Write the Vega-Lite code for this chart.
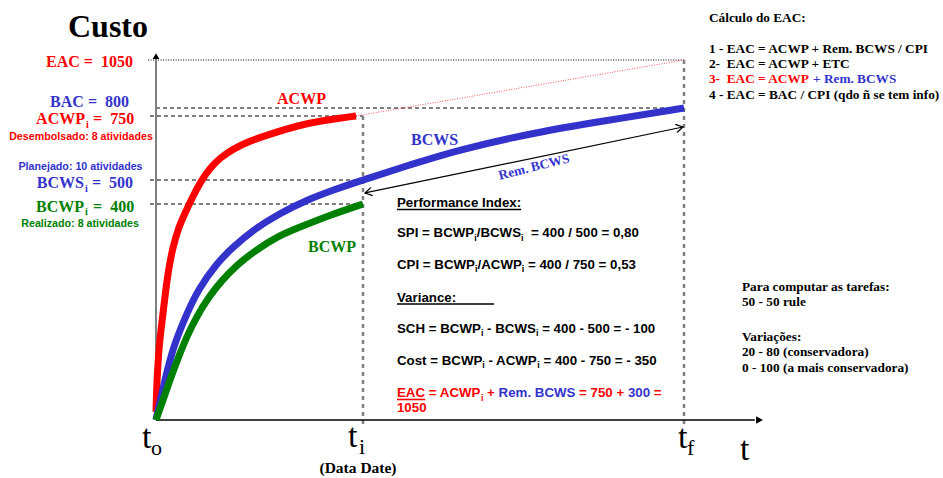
{
  "$schema": "https://vega.github.io/schema/vega-lite/v6.json",
  "width": 943,
  "height": 478,
  "autosize": {"type": "none"},
  "padding": 0,
  "background": "white",
  "view": {"stroke": null},
  "datasets": {
    "curves": [
      {"ref": "ACWP", "t": 0, "v": 15}, {"ref": "ACWP", "t": 0.09, "v": 46}, {"ref": "ACWP", "t": 0.19, "v": 74},
      {"ref": "ACWP", "t": 0.57, "v": 135}, {"ref": "ACWP", "t": 0.95, "v": 167}, {"ref": "ACWP", "t": 1.33, "v": 198},
      {"ref": "ACWP", "t": 2.08, "v": 259}, {"ref": "ACWP", "t": 2.65, "v": 293}, {"ref": "ACWP", "t": 3.22, "v": 320},
      {"ref": "ACWP", "t": 4.17, "v": 354}, {"ref": "ACWP", "t": 5.49, "v": 383}, {"ref": "ACWP", "t": 6.82, "v": 425},
      {"ref": "ACWP", "t": 8.52, "v": 496}, {"ref": "ACWP", "t": 10.23, "v": 546.9}, {"ref": "ACWP", "t": 12.12, "v": 585.9},
      {"ref": "ACWP", "t": 14.58, "v": 621.1}, {"ref": "ACWP", "t": 17.8, "v": 652.3}, {"ref": "ACWP", "t": 21.02, "v": 675.8},
      {"ref": "ACWP", "t": 27.27, "v": 715}, {"ref": "ACWP", "t": 31.06, "v": 730}, {"ref": "ACWP", "t": 34.85, "v": 742},
      {"ref": "ACWP", "t": 37.88, "v": 750},
      {"ref": "BCWS", "t": 0, "v": 0}, {"ref": "BCWS", "t": 0.38, "v": 18.5}, {"ref": "BCWS", "t": 1.7, "v": 74},
      {"ref": "BCWS", "t": 3.22, "v": 135}, {"ref": "BCWS", "t": 5.87, "v": 198}, {"ref": "BCWS", "t": 7.95, "v": 241},
      {"ref": "BCWS", "t": 11.55, "v": 291}, {"ref": "BCWS", "t": 14.58, "v": 320}, {"ref": "BCWS", "t": 18.37, "v": 352},
      {"ref": "BCWS", "t": 23.48, "v": 383}, {"ref": "BCWS", "t": 28.6, "v": 417}, {"ref": "BCWS", "t": 33.52, "v": 458},
      {"ref": "BCWS", "t": 39.2, "v": 500}, {"ref": "BCWS", "t": 48.11, "v": 559}, {"ref": "BCWS", "t": 57.01, "v": 617},
      {"ref": "BCWS", "t": 72.16, "v": 687.5}, {"ref": "BCWS", "t": 84.66, "v": 730}, {"ref": "BCWS", "t": 100, "v": 800},
      {"ref": "BCWP", "t": 0, "v": 0}, {"ref": "BCWP", "t": 1.33, "v": 37}, {"ref": "BCWP", "t": 2.65, "v": 74.1},
      {"ref": "BCWP", "t": 4.17, "v": 114.8}, {"ref": "BCWP", "t": 5.87, "v": 155.6}, {"ref": "BCWP", "t": 7.77, "v": 192.6},
      {"ref": "BCWP", "t": 9.85, "v": 225.9}, {"ref": "BCWP", "t": 12.5, "v": 259.3}, {"ref": "BCWP", "t": 15.53, "v": 288.9},
      {"ref": "BCWP", "t": 18.94, "v": 314.8}, {"ref": "BCWP", "t": 23.11, "v": 340.7}, {"ref": "BCWP", "t": 27.27, "v": 357.4},
      {"ref": "BCWP", "t": 32.95, "v": 379.6}, {"ref": "BCWP", "t": 39.2, "v": 400}
    ],
    "eacLine": [{"t": -1.5, "v": 1050, "t2": 100, "v2": 1050}],
    "levels": [
      {"name": "BAC", "t": 0, "v": 800, "t2": 100, "v2": 800},
      {"name": "ACWPi", "t": -1.14, "v": 750, "t2": 39.2, "v2": 750},
      {"name": "BCWSi", "t": -1.14, "v": 500, "t2": 39.2, "v2": 500},
      {"name": "BCWPi", "t": -1.14, "v": 400, "t2": 39.2, "v2": 400}
    ],
    "dates": [
      {"name": "ti", "t": 39.2, "v": 750, "t2": 39.2, "v2": -13},
      {"name": "tf", "t": 100, "v": 1050, "t2": 100, "v2": -13}
    ],
    "projection": [{"t": 37.88, "v": 750, "t2": 100, "v2": 1050}],
    "yAxis": [{"t": 0, "v": 0, "t2": 0, "v2": 1066}],
    "xAxis": [{"t": 0, "v": 0, "t2": 113.4, "v2": 0}],
    "remLine": [{"t": 39.58, "v": 446, "t2": 99.81, "v2": 707}],
    "yTip": [{"t": 0, "v": 1070}],
    "xTip": [{"t": 114.3, "v": 0}],
    "remStart": [{"t": 39.58, "v": 446}],
    "remEnd": [{"t": 99.81, "v": 707}],
    "underlines": [
      {"ref": "none", "t": 45.64, "v": 389.8, "t2": 69.17, "v2": 389.8},
      {"ref": "none", "t": 45.64, "v": 214.8, "t2": 64.02, "v2": 214.8},
      {"ref": "EAC", "t": 45.64, "v": 38.0, "t2": 50.97, "v2": 38.0}
    ],
    "title": [{"text": "Custo", "t": -16.67, "v": 1169.8}],
    "leftRight": [
      {"text": "EAC =\u00a0 1050", "t": -4.36, "v": 1013.5, "ref": "EAC"},
      {"text": "BAC =\u00a0 800", "t": -5.11, "v": 805.2, "ref": "BCWS"},
      {"text": "ACWP", "t": -13.45, "v": 718.7, "ref": "ACWP"},
      {"text": "BCWS", "t": -13.64, "v": 466.7, "ref": "BCWS"},
      {"text": "BCWP", "t": -13.64, "v": 385.2, "ref": "BCWP"}
    ],
    "leftEq": [
      {"text": "=\u00a0 750", "t": -11.93, "v": 718.7, "ref": "ACWP"},
      {"text": "=\u00a0 500", "t": -12.12, "v": 466.7, "ref": "BCWS"},
      {"text": "=\u00a0 400", "t": -11.93, "v": 385.2, "ref": "BCWP"}
    ],
    "leftSub": [
      {"text": "i", "t": -13.26, "v": 705, "ref": "ACWP"},
      {"text": "i", "t": -13.45, "v": 452, "ref": "BCWS"},
      {"text": "i", "t": -13.45, "v": 380, "ref": "BCWP"}
    ],
    "notes": [
      {"text": "Desembolsado: 8 atividades", "t": -14.2, "v": 656.2, "ref": "ACWP"},
      {"text": "Planejado: 10 atividades", "t": -14.3, "v": 539.1, "ref": "BCWS"},
      {"text": "Realizado: 8 atividades", "t": -14.39, "v": 357.5, "ref": "BCWP"}
    ],
    "curveLabels": [
      {"text": "ACWP", "t": 22.92, "v": 820.8, "ref": "ACWP"},
      {"text": "BCWS", "t": 48.3, "v": 636.7, "ref": "BCWS"},
      {"text": "BCWP", "t": 28.79, "v": 311.1, "ref": "BCWP"}
    ],
    "remLabel": [{"text": "Rem. BCWS", "t": 71.59, "v": 550.8, "ref": "BCWS"}],
    "block": [
      {"text": "Performance Index:", "t": 45.64, "v": 395.0, "ref": "none"},
      {"text": "SPI = BCWP", "t": 45.64, "v": 338.3, "ref": "none"},
      {"text": "/BCWS", "t": 60.74, "v": 338.3, "ref": "none"},
      {"text": "= 400 / 500 = 0,80", "t": 71.0, "v": 338.3, "ref": "none"},
      {"text": "CPI = BCWP", "t": 45.64, "v": 279.6, "ref": "none"},
      {"text": "/ACWP", "t": 60.89, "v": 279.6, "ref": "none"},
      {"text": "= 400 / 750 = 0,53", "t": 70.45, "v": 279.6, "ref": "none"},
      {"text": "Variance:", "t": 45.64, "v": 219.1, "ref": "none"},
      {"text": "SCH = BCWP", "t": 45.64, "v": 161.1, "ref": "none"},
      {"text": "- BCWS", "t": 62.71, "v": 161.1, "ref": "none"},
      {"text": "= 400 - 500 = - 100", "t": 73.13, "v": 161.1, "ref": "none"},
      {"text": "Cost = BCWP", "t": 45.64, "v": 101.9, "ref": "none"},
      {"text": "- ACWP", "t": 62.97, "v": 101.9, "ref": "none"},
      {"text": "= 400 - 750 = - 350", "t": 73.39, "v": 101.9, "ref": "none"},
      {"text": "EAC", "t": 45.64, "v": 42.0, "ref": "EAC"},
      {"text": "= ACWP", "t": 51.67, "v": 42.0, "ref": "EAC"},
      {"text": "+", "t": 62.71, "v": 42.0, "ref": "EAC"},
      {"text": "Rem. BCWS", "t": 64.89, "v": 42.0, "ref": "BCWS"},
      {"text": "= 750 +", "t": 80.13, "v": 42.0, "ref": "EAC"},
      {"text": "300", "t": 89.38, "v": 42.0, "ref": "BCWS"},
      {"text": "=", "t": 94.28, "v": 42.0, "ref": "EAC"},
      {"text": "1050", "t": 45.64, "v": 14.3, "ref": "EAC"}
    ],
    "blockSub": [
      {"text": "i", "t": 60.27, "v": 332.0, "ref": "none"},
      {"text": "i", "t": 69.13, "v": 332.0, "ref": "none"},
      {"text": "i", "t": 60.42, "v": 273.3, "ref": "none"},
      {"text": "i", "t": 69.28, "v": 273.3, "ref": "none"},
      {"text": "i", "t": 61.53, "v": 154.8, "ref": "none"},
      {"text": "i", "t": 71.95, "v": 154.8, "ref": "none"},
      {"text": "i", "t": 61.8, "v": 95.6, "ref": "none"},
      {"text": "i", "t": 72.22, "v": 95.6, "ref": "none"},
      {"text": "i", "t": 61.53, "v": 35.7, "ref": "EAC"}
    ],
    "rightNotes": [
      {"text": "Cálculo do EAC:", "t": 104.73, "v": 1249.5, "ref": "none"},
      {"text": "1 - EAC = ACWP + Rem. BCWS / CPI", "t": 104.73, "v": 1084.9, "ref": "none"},
      {"text": "2-\u00a0 EAC = ACWP + ETC", "t": 104.73, "v": 1006.8, "ref": "none"},
      {"text": "3-\u00a0 EAC = ACWP", "t": 104.73, "v": 928.6, "ref": "EAC"},
      {"text": "+ Rem. BCWS", "t": 124.43, "v": 928.6, "ref": "BCWS"},
      {"text": "4 - EAC = BAC / CPI (qdo ñ se tem info)", "t": 104.73, "v": 845.3, "ref": "none"},
      {"text": "Para computar as tarefas:", "t": 110.98, "v": 239.5, "ref": "none"},
      {"text": "50 - 50 rule", "t": 110.98, "v": 211.1, "ref": "none"},
      {"text": "Variações:", "t": 110.98, "v": 146.9, "ref": "none"},
      {"text": "20 - 80 (conservadora)", "t": 110.98, "v": 118.5, "ref": "none"},
      {"text": "0 - 100 (a mais conservadora)", "t": 110.98, "v": 89.4, "ref": "none"}
    ],
    "dataDate": [{"text": "(Data Date)", "t": 38.26, "v": -98.1}],
    "axisT": [
      {"text": "t", "t": -2.65, "v": -51.9},
      {"text": "t", "t": 36.36, "v": -50.0},
      {"text": "t", "t": 98.86, "v": -51.9},
      {"text": "t", "t": 110.61, "v": -74.1}
    ],
    "axisSub": [
      {"text": "o", "t": -0.95, "v": -64.8},
      {"text": "i", "t": 38.45, "v": -63.5},
      {"text": "f", "t": 100.57, "v": -64.8}
    ]
  },
  "encoding": {
    "x": {"field": "t", "type": "quantitative", "scale": {"domain": [0, 100], "range": [156, 684], "nice": false, "zero": false}, "axis": null},
    "y": {"field": "v", "type": "quantitative", "scale": {"domain": [0, 400, 500, 750, 800, 1050], "range": [420, 204, 180, 116, 108, 60], "nice": false, "zero": false}, "axis": null}
  },
  "layer": [
    {"data": {"name": "eacLine"}, "mark": {"type": "rule", "color": "black", "strokeWidth": 1, "strokeDash": [1, 1.5]},
     "encoding": {"x2": {"field": "t2"}, "y2": {"field": "v2"}}},
    {"data": {"name": "levels"}, "mark": {"type": "rule", "color": "black", "strokeWidth": 1, "strokeDash": [4, 3]},
     "encoding": {"x2": {"field": "t2"}, "y2": {"field": "v2"}}},
    {"data": {"name": "dates"}, "mark": {"type": "rule", "color": "#808080", "strokeWidth": 2.5, "strokeDash": [4, 4]},
     "encoding": {"x2": {"field": "t2"}, "y2": {"field": "v2"}}},
    {"data": {"name": "projection"}, "mark": {"type": "rule", "color": "#FF5555", "strokeWidth": 1, "strokeDash": [1, 1.5]},
     "encoding": {"x2": {"field": "t2"}, "y2": {"field": "v2"}}},
    {"data": {"name": "yAxis"}, "mark": {"type": "rule", "color": "#808080", "strokeWidth": 2},
     "encoding": {"x2": {"field": "t2"}, "y2": {"field": "v2"}}},
    {"data": {"name": "xAxis"}, "mark": {"type": "rule", "color": "black", "strokeWidth": 1.5},
     "encoding": {"x2": {"field": "t2"}, "y2": {"field": "v2"}}},
    {"data": {"name": "remLine"}, "mark": {"type": "rule", "color": "black", "strokeWidth": 1.2},
     "encoding": {"x2": {"field": "t2"}, "y2": {"field": "v2"}}},
    {"data": {"name": "curves"}, "mark": {"type": "line", "strokeWidth": 7, "strokeCap": "butt", "interpolate": "basis"},
     "encoding": {"color": {"field": "ref", "type": "nominal", "scale": {"domain": ["ACWP", "BCWS", "BCWP", "EAC", "none"], "range": ["#FF0000", "#3333CC", "#008000", "#FF0000", "#000000"]}, "legend": null}}},
    {"data": {"name": "yTip"}, "mark": {"type": "point", "shape": "triangle-up", "filled": true, "color": "black", "size": 45, "opacity": 1, "strokeWidth": 0}},
    {"data": {"name": "xTip"}, "mark": {"type": "point", "shape": "triangle-right", "filled": true, "color": "black", "size": 60, "opacity": 1, "strokeWidth": 0}},
    {"data": {"name": "remStart"}, "mark": {"type": "point", "shape": "M-1,-0.6L0,0L-1,0.6", "filled": false, "color": "black", "strokeWidth": 1.2, "size": 196, "opacity": 1, "angle": 168.3}},
    {"data": {"name": "remEnd"}, "mark": {"type": "point", "shape": "M-1,-0.6L0,0L-1,0.6", "filled": false, "color": "black", "strokeWidth": 1.2, "size": 196, "opacity": 1, "angle": -11.7}},
    {"data": {"name": "underlines"}, "mark": {"type": "rule", "strokeWidth": 1.6},
     "encoding": {"x2": {"field": "t2"}, "y2": {"field": "v2"}, "color": {"field": "ref", "type": "nominal", "legend": null}}},
    {"data": {"name": "title"}, "mark": {"type": "text", "font": "Liberation Serif", "fontWeight": "bold", "fontSize": 32, "align": "left", "baseline": "alphabetic", "color": "black"},
     "encoding": {"text": {"field": "text"}}},
    {"data": {"name": "leftRight"}, "mark": {"type": "text", "font": "Liberation Serif", "fontWeight": "bold", "fontSize": 16, "align": "right", "baseline": "alphabetic"},
     "encoding": {"text": {"field": "text"}, "color": {"field": "ref", "type": "nominal", "legend": null}}},
    {"data": {"name": "leftEq"}, "mark": {"type": "text", "font": "Liberation Serif", "fontWeight": "bold", "fontSize": 16, "align": "left", "baseline": "alphabetic"},
     "encoding": {"text": {"field": "text"}, "color": {"field": "ref", "type": "nominal", "legend": null}}},
    {"data": {"name": "leftSub"}, "mark": {"type": "text", "font": "Liberation Serif", "fontWeight": "bold", "fontSize": 10, "align": "left", "baseline": "alphabetic"},
     "encoding": {"text": {"field": "text"}, "color": {"field": "ref", "type": "nominal", "legend": null}}},
    {"data": {"name": "notes"}, "mark": {"type": "text", "font": "Liberation Sans", "fontWeight": "bold", "fontSize": 10.7, "align": "center", "baseline": "alphabetic"},
     "encoding": {"text": {"field": "text"}, "color": {"field": "ref", "type": "nominal", "legend": null}}},
    {"data": {"name": "curveLabels"}, "mark": {"type": "text", "font": "Liberation Serif", "fontWeight": "bold", "fontSize": 16, "align": "left", "baseline": "alphabetic"},
     "encoding": {"text": {"field": "text"}, "color": {"field": "ref", "type": "nominal", "legend": null}}},
    {"data": {"name": "remLabel"}, "mark": {"type": "text", "font": "Liberation Serif", "fontWeight": "bold", "fontSize": 13.3, "align": "center", "baseline": "middle", "angle": -14},
     "encoding": {"text": {"field": "text"}, "color": {"field": "ref", "type": "nominal", "legend": null}}},
    {"data": {"name": "block"}, "mark": {"type": "text", "font": "Liberation Sans", "fontWeight": "bold", "fontSize": 13.3, "align": "left", "baseline": "alphabetic"},
     "encoding": {"text": {"field": "text"}, "color": {"field": "ref", "type": "nominal", "legend": null}}},
    {"data": {"name": "blockSub"}, "mark": {"type": "text", "font": "Liberation Sans", "fontWeight": "bold", "fontSize": 9, "align": "left", "baseline": "alphabetic"},
     "encoding": {"text": {"field": "text"}, "color": {"field": "ref", "type": "nominal", "legend": null}}},
    {"data": {"name": "rightNotes"}, "mark": {"type": "text", "font": "Liberation Serif", "fontWeight": "bold", "fontSize": 13.3, "align": "left", "baseline": "alphabetic"},
     "encoding": {"text": {"field": "text"}, "color": {"field": "ref", "type": "nominal", "legend": null}}},
    {"data": {"name": "dataDate"}, "mark": {"type": "text", "font": "Liberation Serif", "fontWeight": "bold", "fontSize": 15.5, "align": "center", "baseline": "alphabetic", "color": "black"},
     "encoding": {"text": {"field": "text"}}},
    {"data": {"name": "axisT"}, "mark": {"type": "text", "font": "Liberation Serif", "fontSize": 34, "align": "left", "baseline": "alphabetic", "color": "black"},
     "encoding": {"text": {"field": "text"}}},
    {"data": {"name": "axisSub"}, "mark": {"type": "text", "font": "Liberation Serif", "fontSize": 22, "align": "left", "baseline": "alphabetic", "color": "black"},
     "encoding": {"text": {"field": "text"}}}
  ]
}
